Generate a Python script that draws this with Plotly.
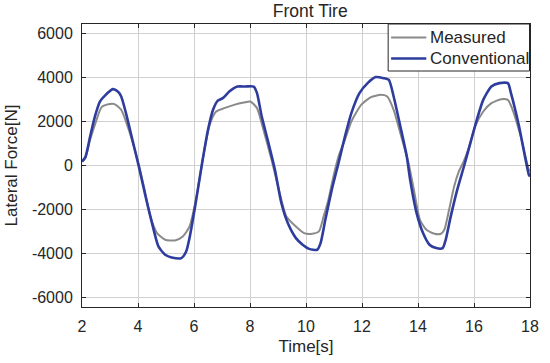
import plotly.graph_objects as go

# Conventional model (blue)
conv_t = [2.0, 2.12, 2.29, 2.46, 2.64, 2.81, 3.1, 3.28, 3.4, 3.57, 3.8, 4.03, 4.27, 4.5, 4.73, 4.97, 5.2, 5.55,
          5.72, 5.84, 6.04, 6.27, 6.5, 6.68, 6.85, 7.03, 7.26, 7.55, 7.84, 8.13, 8.25, 8.42, 8.66, 8.89, 9.12,
          9.35, 9.64, 9.88, 10.11, 10.4, 10.52, 10.69, 10.92, 11.16, 11.39, 11.62, 11.91, 12.2, 12.49, 12.78,
          12.96, 13.13, 13.37, 13.6, 13.72, 13.95, 14.18, 14.41, 14.65, 14.88, 14.99, 15.17, 15.4, 15.64, 15.87,
          16.1, 16.33, 16.62, 16.91, 17.21, 17.32, 17.61, 17.96, 18.0]
conv_f = [180, 380, 1320, 2230, 2915, 3175, 3480, 3370, 3145, 2390, 1170, -45, -1410, -2625, -3690, -4070, -4190,
          -4220, -3920, -3300, -1870, -45, 1625, 2540, 2960, 3070, 3370, 3600, 3600, 3600, 3300, 2230, 1020, -195,
          -1710, -2625, -3310, -3610, -3800, -3840, -3540, -2475, -1110, 110, 1320, 2390, 3300, 3755, 4030, 3980,
          3905, 3145, 1780, 410, -650, -2170, -3080, -3610, -3765, -3765, -3385, -2320, -1110, -45, 1020, 2080,
          2990, 3600, 3755, 3755, 3300, 1780, -425, -500]

# Measured (gray)
meas_t = [2.0, 2.12, 2.29, 2.52, 2.7, 2.99, 3.16, 3.4, 3.63, 3.92, 4.21, 4.44, 4.68, 4.97, 5.32, 5.6, 5.84, 6.09,
          6.33, 6.56, 6.79, 7.08, 7.43, 7.78, 8.01, 8.25, 8.48, 8.77, 9.06, 9.3, 9.64, 9.93, 10.22, 10.46, 10.63,
          10.8, 10.98, 11.16, 11.39, 11.62, 11.97, 12.32, 12.67, 12.9, 13.13, 13.37, 13.66, 13.83, 14.07, 14.3,
          14.59, 14.82, 14.94, 15.11, 15.29, 15.45, 15.62, 15.8, 16.04, 16.33, 16.62, 16.97, 17.21, 17.38, 17.67,
          17.96, 18.0]
meas_f = [180, 350, 1170, 2080, 2660, 2800, 2800, 2540, 1780, 565, -955, -2320, -3080, -3385, -3415, -3235, -2780,
          -1410, 410, 1850, 2460, 2615, 2765, 2870, 2915, 2615, 1625, 260, -1260, -2320, -2780, -3080, -3110, -3005,
          -2320, -1560, -500, 410, 1170, 2005, 2765, 3115, 3220, 3145, 2540, 1475, 110, -955, -2475, -2930, -3110,
          -3110, -2930, -2020, -955, -300, 150, 750, 1780, 2460, 2840, 3025, 2990, 2540, 1320, -195, -250]

series_names = ["Measured", "Conventional"]
series_colors = ["#8a8a8a", "#2d3c9d"]
series_widths = [2, 2.6]

x_ticks = [2, 4, 6, 8, 10, 12, 14, 16, 18]
y_ticks = [-6000, -4000, -2000, 0, 2000, 4000, 6000]

txt = "#262626"
fontfam = "Liberation Sans, Arial, sans-serif"

fig = go.Figure()
for (tx, fy), name, col, w in zip([(meas_t, meas_f), (conv_t, conv_f)], series_names, series_colors, series_widths):
    fig.add_trace(go.Scatter(x=tx, y=fy, mode="lines", name=name, showlegend=False,
                             line=dict(color=col, width=w, shape="spline", smoothing=0.6)))

axis_common = dict(showline=True, linecolor=txt, linewidth=1, mirror="ticks", ticks="inside", ticklen=4,
                   tickcolor=txt, showgrid=True, gridcolor="#d0d0d0", gridwidth=1, zeroline=False,
                   tickfont=dict(family=fontfam, size=16, color=txt))

fig.update_xaxes(range=[2, 18], tickvals=x_ticks, ticktext=[str(v) for v in x_ticks],
                 title=dict(text="Time[s]", font=dict(family=fontfam, size=17, color=txt), standoff=5),
                 ticklabelstandoff=5, **axis_common)
fig.update_yaxes(range=[-6450, 6450], tickvals=y_ticks, ticktext=[str(v) for v in y_ticks],
                 title=dict(text="Lateral Force[N]", font=dict(family=fontfam, size=17, color=txt), standoff=9),
                 ticklabelstandoff=5, **axis_common)

# Legend box (MATLAB style), drawn in plot-area (paper) coordinates
L, R, T, B = 81, 539, 24, 307
px = lambda v: (v - L) / (R - L)
py = lambda v: (B - v) / (B - T)
shapes = [dict(type="rect", xref="paper", yref="paper", x0=px(394), x1=px(538.5), y0=py(71), y1=py(24),
               fillcolor="white", line=dict(color=txt, width=1), layer="above")]
annotations = []
for i, (name, col, w) in enumerate(zip(series_names, series_colors, series_widths)):
    yy = py(37.5 + i * 21)
    shapes.append(dict(type="line", xref="paper", yref="paper", x0=px(397), x1=px(433), y0=yy, y1=yy,
                       line=dict(color=col, width=w), layer="above"))
    annotations.append(dict(text=name, xref="paper", yref="paper", x=px(435.5), y=yy, xanchor="left",
                            yanchor="middle", showarrow=False, borderpad=0,
                            font=dict(family=fontfam, size=17, color=txt)))

fig.update_layout(
    width=550, height=363,
    margin=dict(l=81, r=11, t=24, b=56),
    paper_bgcolor="white", plot_bgcolor="white",
    title=dict(text="Front Tire", x=0.564, xanchor="center", y=1 - 11 / 363, yanchor="middle",
               yref="container", font=dict(family=fontfam, size=17.5, color=txt)),
    shapes=shapes, annotations=annotations,
    showlegend=False,
)

fig.write_html("out.html")
